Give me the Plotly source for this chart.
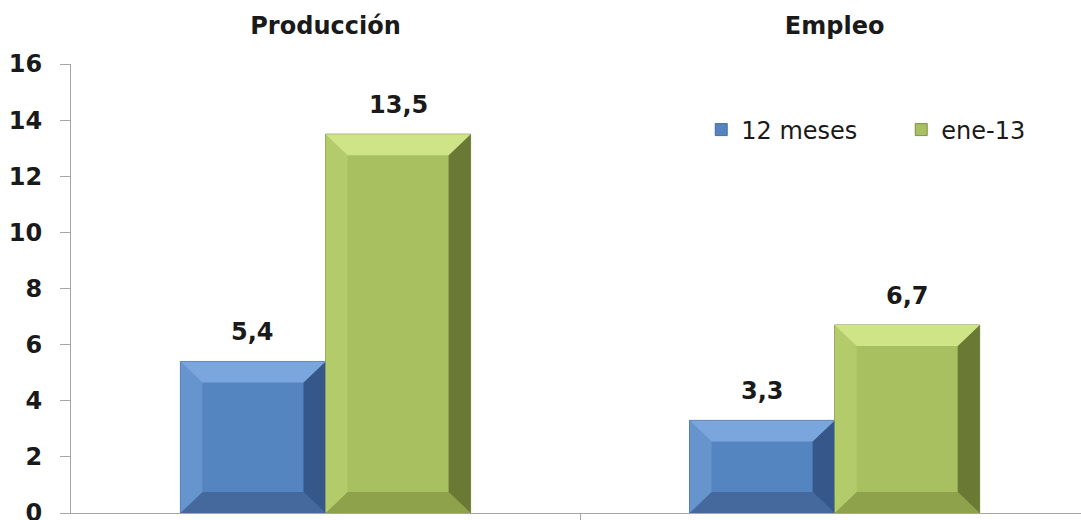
import plotly.graph_objects as go

categories = ["Producción", "Empleo"]
series_names = ["12 meses", "ene-13"]
values_12m = [5.4, 3.3]
values_ene13 = [13.5, 6.7]
y_ticks = [0, 2, 4, 6, 8, 10, 12, 14, 16]

BOLD_FONT = "DejaVu Sans"
LEG_FONT = "DejaVu Sans"
TXT = "#1a1a1a"
BOLD = dict(family=BOLD_FONT, size=24, color=TXT, weight="bold")

# colours: face, top bevel, left bevel, right bevel, bottom bevel
palette = [
    dict(face="#5585C0", top="#7AA6DD", left="#6694CC", right="#36578A", bottom="#45699C"),
    dict(face="#A8C060", top="#CFE387", left="#B4CB6C", right="#6A7A34", bottom="#8DA24A"),
]
series_values = [values_12m, values_ene13]

X_RANGE = [-0.4999, 1.484]
BARGAP = 0.43
PLOT_W = 1081 - 71
PLOT_H = 513 - 64
Y_RANGE = [-0.0001, 16]

fig = go.Figure()
for name, vals, col in zip(series_names, series_values, palette):
    fig.add_trace(go.Bar(
        x=categories, y=vals, name=name,
        marker=dict(color=col["face"], line=dict(color=col["right"], width=0.8)),
        hoverinfo="x+y",
    ))

# bevel shapes and value labels derived from bar geometry
bar_w = (1 - BARGAP) / len(series_names)
px_per_x = PLOT_W / (X_RANGE[1] - X_RANGE[0])
px_per_y = PLOT_H / (Y_RANGE[1] - Y_RANGE[0])
dx = 22 / px_per_x
dy = 21 / px_per_y
shapes = []
annotations = []
for k, (vals, col) in enumerate(zip(series_values, palette)):
    for i, v in enumerate(vals):
        xc = i + (k - (len(series_names) - 1) / 2) * bar_w
        x0, x1 = xc - bar_w / 2, xc + bar_w / 2
        pieces = [
            ("bottom", [(x0, 0), (x1, 0), (x1 - dx, dy), (x0 + dx, dy)]),
            ("left", [(x0, 0), (x0, v), (x0 + dx, v - dy), (x0 + dx, dy)]),
            ("right", [(x1, 0), (x1, v), (x1 - dx, v - dy), (x1 - dx, dy)]),
            ("top", [(x0, v), (x1, v), (x1 - dx, v - dy), (x0 + dx, v - dy)]),
        ]
        for key, pts in pieces:
            path = "M " + " L ".join(f"{px},{py}" for px, py in pts) + " Z"
            shapes.append(dict(type="path", xref="x", yref="y", path=path,
                               fillcolor=col[key], line=dict(width=0), layer="above"))
        annotations.append(dict(
            x=xc, y=v, xref="x", yref="y", text=f"{v:.1f}".replace(".", ","),
            showarrow=False, yanchor="bottom", yshift=13, font=BOLD,
        ))

# invisible trace to activate the top category axis
fig.add_trace(go.Scatter(x=[0, 1], y=[None, None], xaxis="x2", showlegend=False, hoverinfo="skip"))

fig.update_layout(
    width=1081, height=520,
    paper_bgcolor="white", plot_bgcolor="white",
    separators=",.",
    barmode="group", bargap=BARGAP, bargroupgap=0,
    margin=dict(l=71, r=0, t=64, b=7, autoexpand=False),
    font=dict(family=BOLD_FONT, color=TXT),
    showlegend=True,
    legend=dict(
        orientation="h", x=0.624, y=0.853, xanchor="left", yanchor="middle",
        font=dict(family=LEG_FONT, size=24, color=TXT),
        bgcolor="rgba(0,0,0,0)", itemwidth=30, traceorder="normal",
        entrywidth=155, entrywidthmode="pixels",
    ),
    xaxis=dict(
        range=X_RANGE,
        showticklabels=False, ticks="outside", tickson="boundaries",
        ticklen=8, tickcolor="#a6a6a6", automargin=False,
        showline=True, linecolor="#a6a6a6", linewidth=1, showgrid=False,
    ),
    xaxis2=dict(
        overlaying="x", side="top", type="linear", range=X_RANGE,
        tickmode="array", tickvals=[0, 1], ticktext=categories,
        showline=False, showgrid=False, zeroline=False, ticks="",
        automargin=False, ticklabelstandoff=24,
        tickfont=BOLD,
    ),
    yaxis=dict(
        range=Y_RANGE, tickmode="array", tickvals=y_ticks,
        ticks="outside", ticklen=10, tickcolor="#a6a6a6", automargin=False,
        showline=True, linecolor="#a6a6a6", linewidth=1,
        showgrid=False, zeroline=False, ticklabelstandoff=13,
        ticklabeloverflow="allow",
        tickfont=BOLD,
    ),
    shapes=shapes,
    annotations=annotations,
)

fig.write_html("out.html", config={"displayModeBar": False},
               post_script="document.body.style.margin='0';")
